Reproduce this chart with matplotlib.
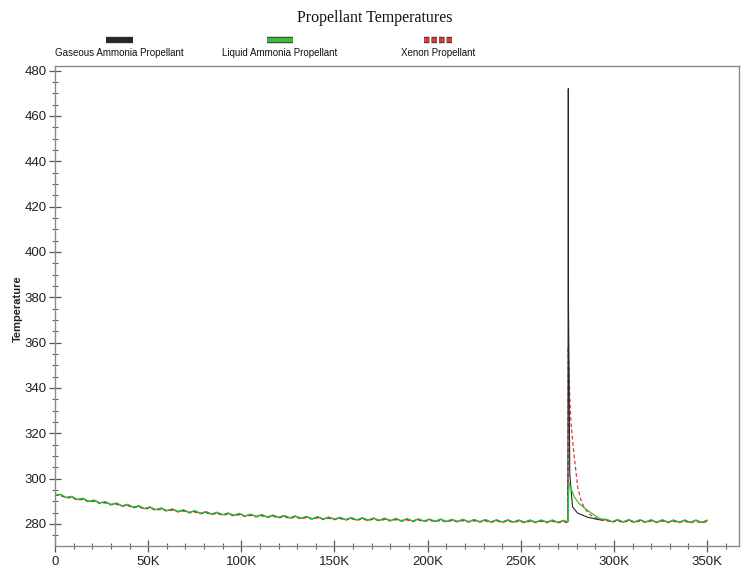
import numpy as np
import matplotlib.pyplot as plt
import matplotlib.patheffects as pe
from matplotlib.lines import Line2D
from matplotlib.ticker import MultipleLocator, FuncFormatter

plt.rcParams['font.family'] = ['Liberation Sans', 'DejaVu Sans']

# sample times (thousands) before and after the spike
pre_time_k = np.arange(0, 274, 3)
post_time_k = np.arange(296, 351, 3)

# Gaseous Ammonia Propellant
gas_pre = [293.0, 292.9, 291.7, 292.0, 290.8, 291.2, 290.0, 290.4, 289.3, 289.7,
           288.6, 289.1, 288.0, 288.5, 287.4, 287.9, 286.8, 287.4, 286.3, 286.9,
           285.9, 286.5, 285.5, 286.1, 285.1, 285.7, 284.7, 285.3, 284.4, 285.0,
           284.1, 284.7, 283.8, 284.5, 283.5, 284.2, 283.3, 284.0, 283.1, 283.8,
           282.9, 283.6, 282.7, 283.4, 282.5, 283.2, 282.3, 283.1, 282.2, 282.9,
           282.1, 282.8, 281.9, 282.7, 281.8, 282.6, 281.7, 282.5, 281.6, 282.4,
           281.5, 282.3, 281.4, 282.2, 281.3, 282.1, 281.3, 282.0, 281.2, 282.0,
           281.1, 281.9, 281.1, 281.9, 281.0, 281.8, 281.0, 281.8, 280.9, 281.7,
           280.9, 281.7, 280.9, 281.6, 280.8, 281.6, 280.8, 281.6, 280.8, 281.6,
           280.7, 281.5]
gas_spike_t = [274.5, 275.3, 275.5, 275.6, 276.3, 277.8, 280.5, 285.8, 291.2, 293.0]
gas_spike = [280.9, 280.9, 472.0, 377.0, 302.0, 287.5, 284.8, 283.0, 282.0, 281.8]
gas_post = [281.9, 281.0, 281.8, 280.9, 281.8, 280.9, 281.7, 280.9, 281.7, 280.8,
            281.7, 280.8, 281.6, 280.8, 281.6, 280.7, 281.6, 280.7, 281.5]

# Liquid Ammonia Propellant
liq_pre = [293.0, 293.1, 291.7, 292.2, 290.8, 291.4, 290.0, 290.6, 289.3, 289.9,
           288.6, 289.3, 288.0, 288.7, 287.4, 288.1, 286.8, 287.6, 286.3, 287.1,
           285.9, 286.7, 285.5, 286.3, 285.1, 285.9, 284.7, 285.5, 284.4, 285.2,
           284.1, 284.9, 283.8, 284.7, 283.5, 284.4, 283.3, 284.2, 283.1, 284.0,
           282.9, 283.8, 282.7, 283.6, 282.5, 283.4, 282.3, 283.3, 282.2, 283.1,
           282.1, 283.0, 281.9, 282.9, 281.8, 282.8, 281.7, 282.7, 281.6, 282.6,
           281.5, 282.5, 281.4, 282.4, 281.3, 282.3, 281.3, 282.2, 281.2, 282.2,
           281.1, 282.1, 281.1, 282.1, 281.0, 282.0, 281.0, 282.0, 280.9, 281.9,
           280.9, 281.9, 280.9, 281.8, 280.8, 281.8, 280.8, 281.8, 280.8, 281.8,
           280.7, 281.7]
liq_spike_t = [274.5, 275.3, 275.5, 275.9, 278.7, 281.3, 285.8, 290.3, 293.0]
liq_spike = [281.1, 281.1, 291.0, 298.0, 292.0, 289.0, 286.0, 283.5, 282.2]
liq_post = [282.1, 281.0, 282.0, 280.9, 282.0, 280.9, 281.9, 280.9, 281.9, 280.8,
            281.9, 280.8, 281.8, 280.8, 281.8, 280.7, 281.8, 280.7, 281.7]

# Xenon Propellant
xe_pre = [292.8, 292.5, 291.5, 291.6, 290.6, 290.8, 289.8, 290.0, 289.1, 289.3,
          288.4, 288.7, 287.8, 288.1, 287.2, 287.5, 286.6, 287.0, 286.1, 286.5,
          285.7, 286.1, 285.3, 285.7, 284.9, 285.3, 284.5, 284.9, 284.2, 284.6,
          283.9, 284.3, 283.6, 284.1, 283.3, 283.8, 283.1, 283.6, 282.9, 283.4,
          282.7, 283.2, 282.5, 283.0, 282.3, 282.8, 282.1, 282.7, 282.0, 282.5,
          281.9, 282.4, 281.7, 282.3, 281.6, 282.2, 281.5, 282.1, 281.4, 282.0,
          281.3, 281.9, 281.2, 281.8, 281.1, 281.7, 281.1, 281.6, 281.0, 281.6,
          280.9, 281.5, 280.9, 281.5, 280.8, 281.4, 280.8, 281.4, 280.7, 281.3,
          280.7, 281.3, 280.7, 281.2, 280.6, 281.2, 280.6, 281.2, 280.6, 281.2,
          280.5, 281.1]
xe_spike_t = [274.5, 275.3, 275.5, 276.2, 276.9, 278.5, 280.6, 282.3, 283.9, 286.0, 288.5, 291.5, 294.0]
xe_spike = [280.6, 280.6, 358.0, 338.0, 325.0, 311.0, 296.0, 290.5, 287.5, 285.0, 283.3, 282.2, 281.6]
xe_post = [281.5, 280.8, 281.4, 280.7, 281.4, 280.7, 281.3, 280.7, 281.3, 280.6,
           281.3, 280.6, 281.2, 280.6, 281.2, 280.5, 281.2, 280.5, 281.1]

labels = ['Gaseous Ammonia Propellant', 'Liquid Ammonia Propellant', 'Xenon Propellant']
colors = ['#262626', '#3cbf3c', '#d83c3c']


def join(pre, spike_t, spike, post):
    t = np.concatenate([pre_time_k, spike_t, post_time_k]) * 1000
    v = np.concatenate([pre, spike, post])
    return t, v


series = [
    join(gas_pre, gas_spike_t, gas_spike, gas_post),
    join(liq_pre, liq_spike_t, liq_spike, liq_post),
    join(xe_pre, xe_spike_t, xe_spike, xe_post),
]

fig = plt.figure(figsize=(7.41, 5.72), dpi=100)
ax = fig.add_axes([0.0742, 0.0455, 0.9228, 0.8391])

ax.plot(*series[0], color=colors[0], lw=0.8, zorder=3)
ax.plot(*series[1], color=colors[1], lw=0.9, zorder=4)
ax.plot(*series[2], color=colors[2], lw=0.9, ls=(0, (3, 2)), zorder=2)

ax.set_xlim(0, 367000)
ax.set_ylim(270.3, 482)
ax.xaxis.set_major_locator(MultipleLocator(50000))
ax.xaxis.set_minor_locator(MultipleLocator(10000))
ax.yaxis.set_major_locator(MultipleLocator(20))
ax.yaxis.set_minor_locator(MultipleLocator(5))
ax.xaxis.set_major_formatter(FuncFormatter(lambda v, p: '0' if v == 0 else '%dK' % (v / 1000)))

for s in ax.spines.values():
    s.set_color('#8a8a8a')
    s.set_linewidth(1.0)
ax.tick_params(which='major', direction='inout', length=8, width=0.9, color='#555555',
               labelsize=9.5, labelcolor='#222222')
ax.tick_params(which='minor', direction='inout', length=5, width=0.8, color='#666666')
ax.tick_params(axis='y', pad=2)
ax.tick_params(axis='x', pad=3)

fig.text(0.024, 0.46, 'Temperature', rotation=90, ha='center', va='center',
         fontsize=8, fontweight='bold', color='#222222')
fig.text(0.506, 0.9685, 'Propellant Temperatures', ha='center', va='center',
         fontsize=11.5, family='Liberation Serif', color='#111111')

# legend: symbol above each label
leg_x = [(0.143, 0.179), (0.360, 0.395), (0.572, 0.610)]
for (x0, x1), lab, c, i in zip(leg_x, labels, colors, range(3)):
    ls = (0, (1.2, 0.5)) if i == 2 else '-'
    ln = Line2D([x0, x1], [0.930, 0.930], transform=fig.transFigure, color=c,
                lw=3.2, ls=ls, solid_capstyle='butt', dash_capstyle='butt',
                path_effects=[pe.Stroke(linewidth=4.6, foreground='#333333'), pe.Normal()])
    fig.add_artist(ln)
    fig.text((x0 + x1) / 2, 0.908, lab, ha='center', va='center', fontsize=7,
             color='#111111')

fig.savefig('out.png', dpi=100)
